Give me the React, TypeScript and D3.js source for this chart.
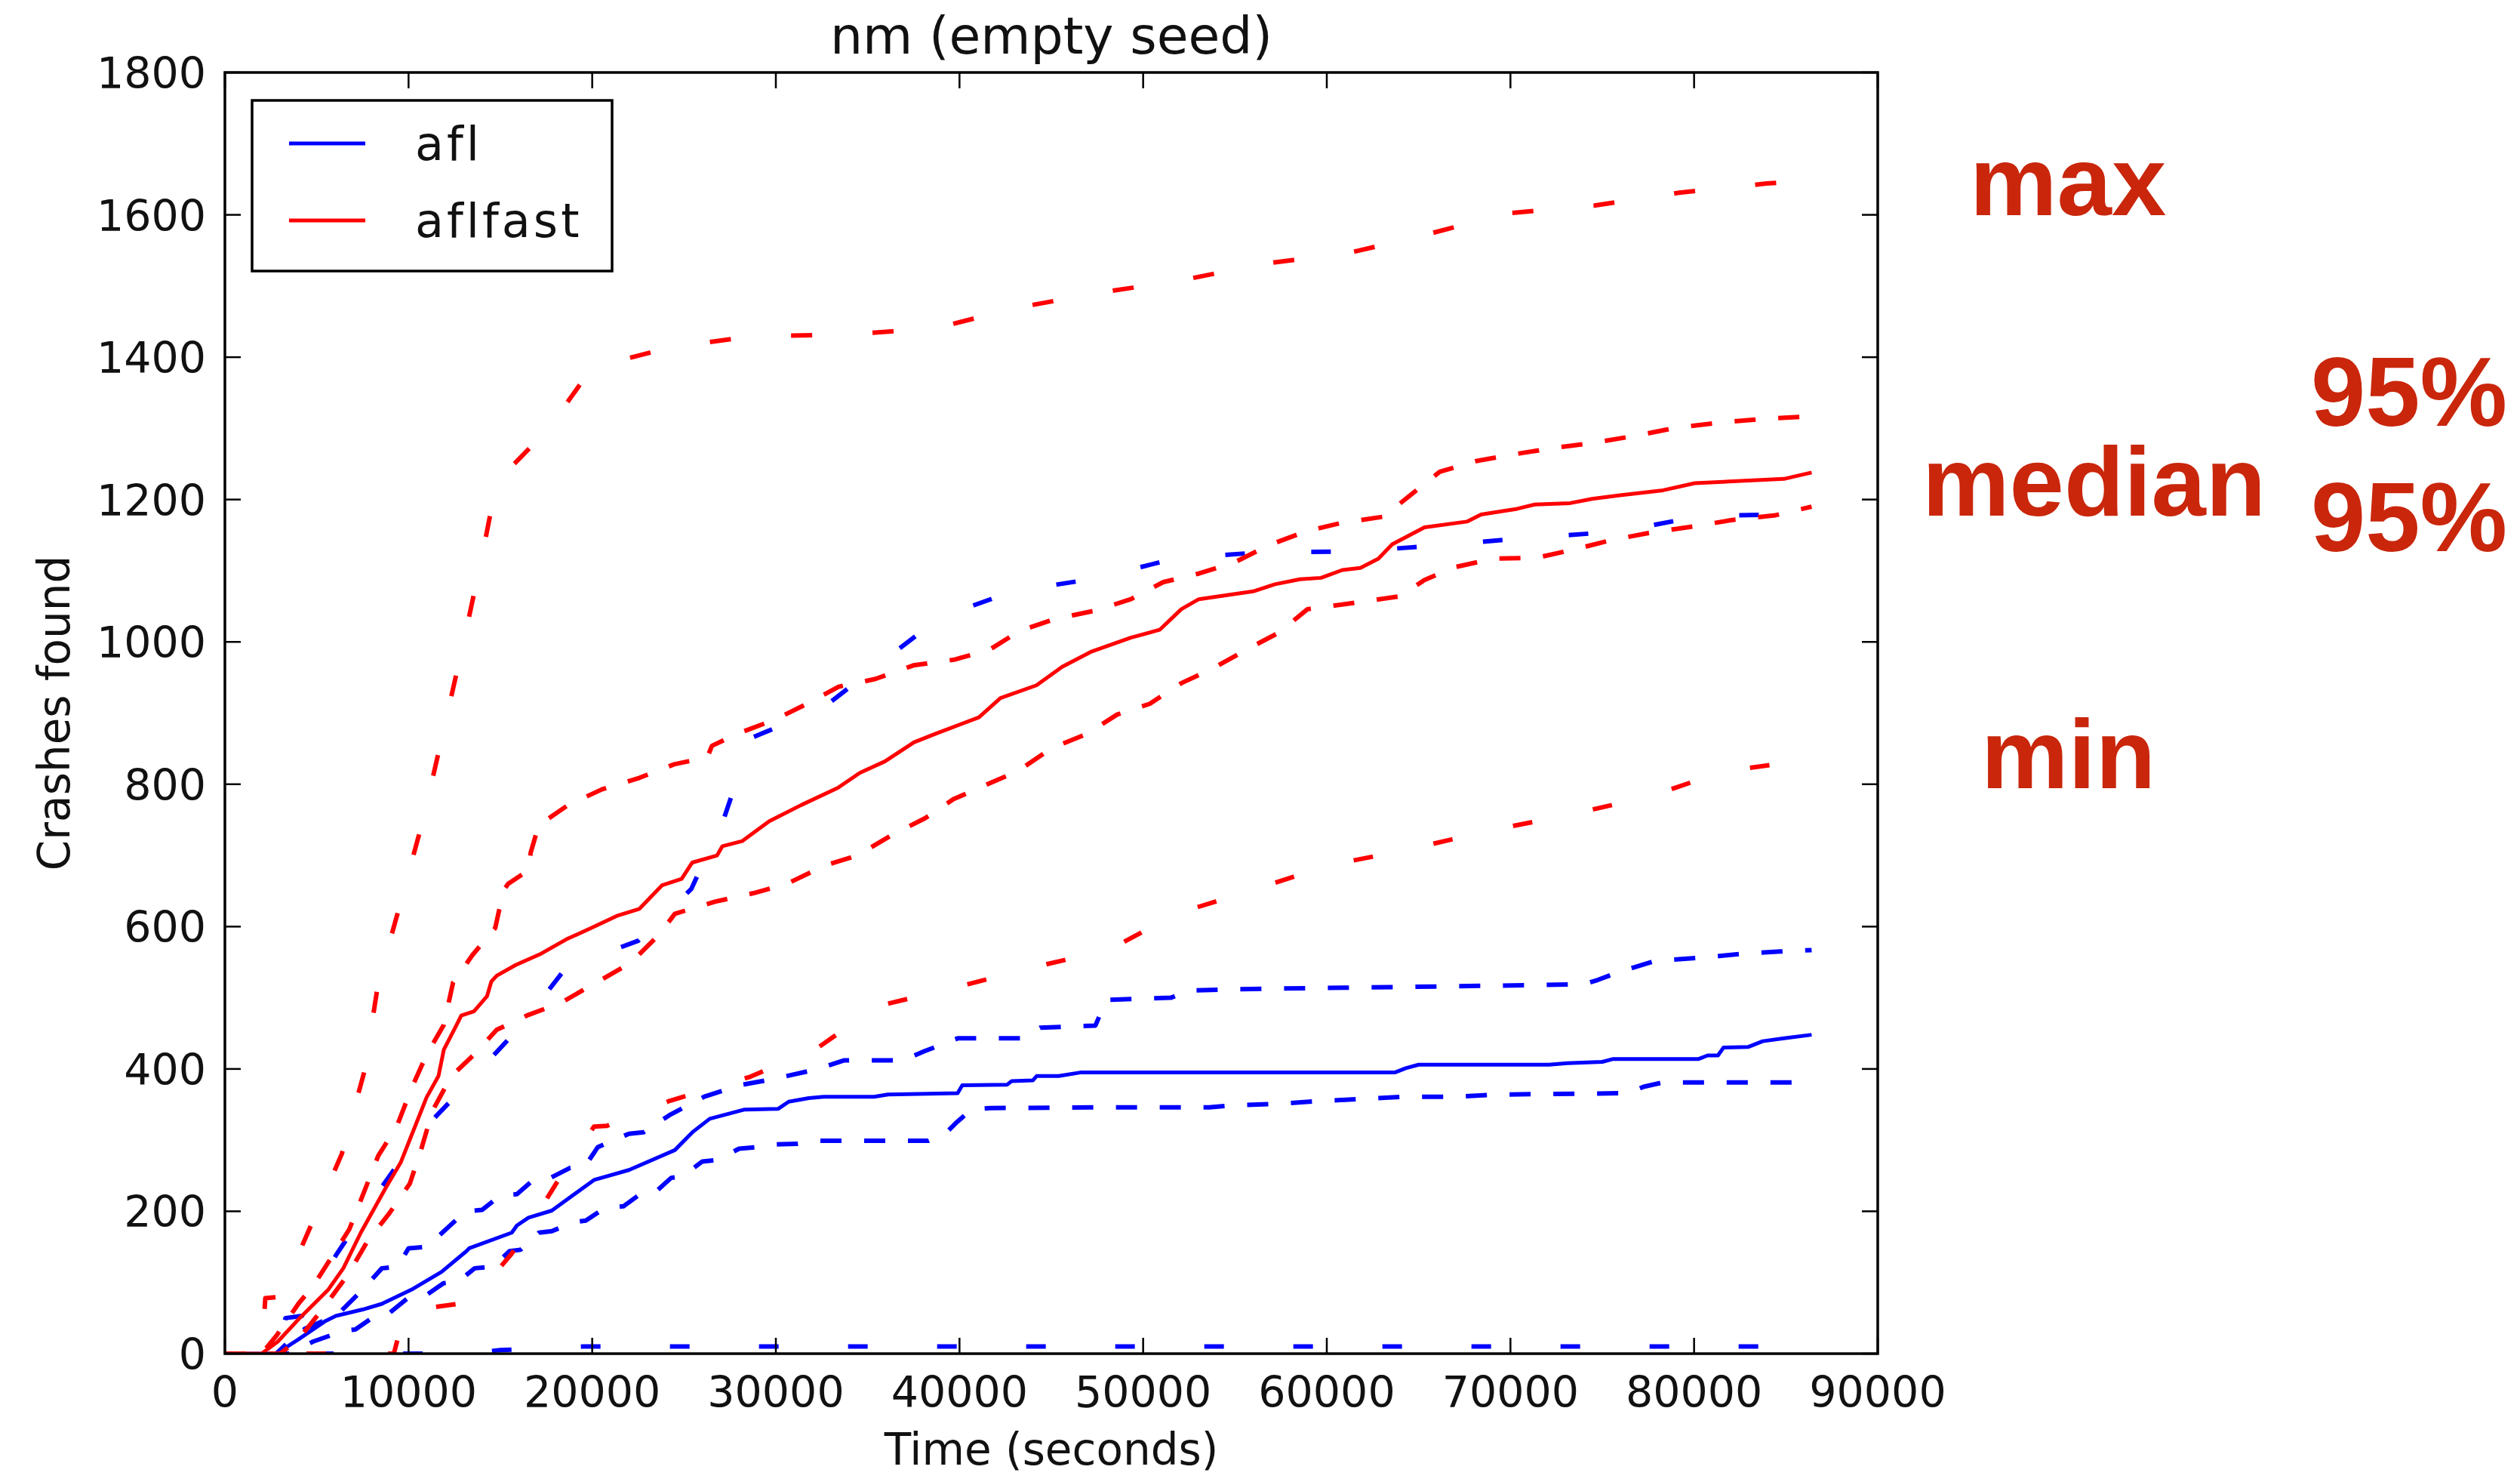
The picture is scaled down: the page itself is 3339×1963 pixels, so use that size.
import React, { useEffect, useRef } from "react";
import * as d3 from "d3";

// x: seconds, y: crashes found
const aflMedian = [
  [0, 0], [2800, 0], [4000, 20], [5480, 46], [6040, 53], [7500, 62], [8550, 70], [10240, 91],
  [11800, 115], [13150, 144], [13300, 148], [15620, 170], [15900, 180], [16530, 191], [17800, 201],
  [20100, 244], [22000, 258], [24500, 286], [25500, 312], [26400, 330], [28300, 343], [30130, 344],
  [30700, 354], [31800, 359], [32600, 361], [35350, 361], [36100, 364], [39900, 366], [40150, 377],
  [42600, 378], [42840, 383], [44000, 384], [44200, 390], [45400, 390], [46580, 395], [63700, 395],
  [64300, 401], [65000, 406], [72100, 406], [73100, 408], [75000, 410], [75600, 414], [80250, 414],
  [80740, 419], [81300, 419], [81600, 430], [82960, 431], [83740, 439], [84900, 443], [86400, 448],
];
const aflUpper = [
  [0, 0], [2800, 0], [3600, 20], [4360, 35], [6100, 54], [7500, 90], [8550, 120], [9400, 122],
  [10000, 148], [11000, 150], [13100, 200], [14000, 202], [15000, 222], [15900, 224], [16700, 242],
  [17500, 244], [18800, 261], [19600, 263], [20300, 290], [22000, 309], [22800, 311], [24200, 335],
  [26100, 361], [28000, 377], [29900, 386], [31800, 397], [32400, 401], [33700, 412], [36900, 412],
  [38100, 425], [39900, 443], [43400, 443], [44400, 458], [47400, 461], [48000, 497], [51500, 500],
  [52500, 510], [54800, 512], [69200, 517], [74000, 519], [74750, 525], [75900, 536], [77900, 552],
  [80250, 556], [82700, 562], [84700, 565], [86400, 567],
];
const aflLower = [
  [0, 0], [3500, 0], [4800, 17], [6450, 32], [7100, 34], [8350, 56], [9000, 58], [10000, 79],
  [10900, 81], [11900, 99], [12700, 101], [13600, 120], [14600, 122], [15500, 144], [16100, 146],
  [17100, 170], [17800, 172], [19000, 185], [19650, 187], [20700, 205], [21700, 207], [22600, 224],
  [23400, 226], [24300, 247], [24900, 249], [26000, 270], [26800, 272], [28000, 288], [28900, 290],
  [30000, 294], [31200, 295], [32300, 299], [38300, 299], [39300, 311], [39800, 324], [40650, 343],
  [41650, 345], [47700, 346], [53600, 346], [55000, 349], [57300, 351], [59650, 355], [62000, 358],
  [64300, 361], [67000, 361], [69200, 364], [76400, 366], [77250, 375], [78300, 381], [86400, 381],
];
const aflMax = [
  [0, 0], [2800, 0], [3300, 50], [4200, 53], [6040, 138], [8200, 222], [10700, 312], [13370, 384],
  [16100, 460], [18600, 543], [22500, 580], [25400, 653], [27200, 754], [28650, 865], [32500, 906],
  [35700, 970], [38900, 1034], [42900, 1071], [47400, 1089], [51700, 1117], [56500, 1126],
  [61500, 1127], [66300, 1136], [71400, 1147], [75900, 1155], [80400, 1177], [86400, 1180],
];
const aflMin = [[0, 0], [13000, 0], [15000, 5], [19500, 10], [86400, 10]];

const aflfastMedian = [
  [0, 0], [2000, 0], [2880, 17], [4110, 51], [5630, 90], [6450, 120], [7400, 170], [8760, 233],
  [9580, 269], [10150, 306], [10980, 360], [11630, 390], [11920, 427], [12620, 462], [12870, 475],
  [13560, 481], [14270, 502], [14510, 523], [14800, 531], [15830, 546], [17220, 562], [18580, 582],
  [19940, 598], [21340, 615], [22570, 625], [23800, 658], [24870, 667], [25450, 690], [26800, 700],
  [27090, 713], [28160, 720], [29640, 748], [31400, 771], [33380, 795], [34570, 816], [35930, 832],
  [37530, 859], [38700, 871], [41060, 894], [42230, 921], [44190, 939], [45590, 965], [47150, 986],
  [49330, 1006], [50900, 1017], [52080, 1046], [53030, 1060], [55990, 1071], [57180, 1081],
  [58540, 1088], [59690, 1090], [60850, 1101], [61830, 1104], [62810, 1117], [63560, 1137],
  [65320, 1161], [67630, 1169], [68400, 1179], [70370, 1187], [71330, 1193], [73260, 1195],
  [74450, 1201], [75970, 1206], [78310, 1213], [80040, 1223], [84890, 1229], [86400, 1238],
];
const aflfastUpper = [
  [0, 0], [2000, 0], [2800, 25], [4000, 70], [4800, 95], [5800, 135], [6780, 175], [8350, 278],
  [9370, 320], [10150, 372], [10980, 420], [11920, 462], [12420, 521], [13480, 560], [14720, 598],
  [15170, 651], [15420, 660], [16530, 679], [16650, 704], [17060, 740], [17350, 747], [18700, 771],
  [20550, 793], [22570, 809], [24460, 828], [26270, 838], [26520, 854], [27910, 871], [29970, 891],
  [31700, 913], [33420, 937], [35430, 948], [37490, 967], [39710, 975], [41640, 989], [43240, 1015],
  [45180, 1032], [47400, 1044], [49330, 1060], [51100, 1084], [53030, 1096], [55000, 1112],
  [56860, 1136], [58830, 1155], [60760, 1167], [63100, 1176], [64590, 1207], [66150, 1239],
  [68120, 1254], [70300, 1264], [72480, 1273], [74620, 1280], [76880, 1290], [79060, 1301],
  [81360, 1308], [83620, 1313], [86400, 1317],
];
const aflfastLower = [
  [0, 0], [3000, 0], [4000, 20], [5300, 62], [6700, 111], [7810, 160], [8920, 196], [10070, 239],
  [10690, 287], [11300, 341], [12330, 390], [13560, 420], [14800, 455], [16440, 475], [18300, 493],
  [20400, 524], [22100, 549], [23620, 588], [24500, 618], [26680, 635], [28780, 647], [30590, 660],
  [32680, 686], [34450, 700], [36340, 729], [38110, 752], [39670, 779], [41520, 800], [43210, 819],
  [44970, 850], [46950, 871], [48590, 898], [50360, 913], [52080, 942], [53810, 963], [55620, 989],
  [57390, 1013], [58950, 1046], [60980, 1053], [63970, 1064], [65320, 1087], [66970, 1105],
  [69100, 1117], [71400, 1118], [73500, 1130], [75480, 1143], [77530, 1153], [79920, 1162],
  [82010, 1171], [84440, 1178], [86400, 1190],
];
const aflfastMax = [
  [0, 0], [2000, 0], [2200, 78], [3000, 80], [4650, 178], [6370, 281], [7600, 397], [8350, 521],
  [9580, 635], [10800, 751], [11850, 869], [13000, 1000], [14000, 1120], [14800, 1225], [17640, 1300],
  [19980, 1385], [24250, 1414], [28650, 1429], [33830, 1432], [38600, 1440], [43040, 1469],
  [47480, 1490], [52090, 1508], [56530, 1531], [61300, 1547], [65530, 1573], [69800, 1602],
  [74570, 1613], [79180, 1631], [83950, 1644], [86400, 1648],
];
const aflfastMin = [
  [0, 0], [9200, 0], [9800, 60], [12700, 70], [13560, 78], [15600, 140], [16000, 155], [17800, 229],
  [18300, 250], [20100, 319], [20800, 320], [24200, 355], [28600, 389], [32300, 430], [35500, 488],
  [39700, 514], [43900, 542], [48200, 568], [51800, 618], [55900, 651], [60100, 686], [64400, 708],
  [68700, 734], [73200, 757], [77600, 783], [81600, 818], [86400, 835],
];

const xTicks = [0, 10000, 20000, 30000, 40000, 50000, 60000, 70000, 80000, 90000];
const yTicks = [0, 200, 400, 600, 800, 1000, 1200, 1400, 1600, 1800];
const legendNames = ["afl", "aflfast"];
const notes = [
  { text: "max", x: 2610, y: 285 },
  { text: "95%", x: 3062, y: 564 },
  { text: "median", x: 2547, y: 683 },
  { text: "95%", x: 3062, y: 730 },
  { text: "min", x: 2625, y: 1044 },
];

function App() {
  const ref = useRef<SVGSVGElement>(null);

  useEffect(() => {
    const svg = d3.select(ref.current);
    svg.selectAll("*").remove();

    const W = 3339;
    const H = 1963;
    const left = 298, right = 2488, top = 96, bottom = 1793;
    const font = "'DejaVu Sans', sans-serif";
    const ink = "#111";

    svg.append("rect").attr("width", W).attr("height", H).attr("fill", "white");

    const x = d3.scaleLinear().domain([0, 90000]).range([left, right]);
    const y = d3.scaleLinear().domain([0, 1800]).range([bottom, top]);

    svg
      .append("clipPath")
      .attr("id", "plot")
      .append("rect")
      .attr("x", left)
      .attr("y", top)
      .attr("width", right - left)
      .attr("height", bottom - top);

    const line = d3
      .line<number[]>()
      .x((d) => x(d[0]))
      .y((d) => y(d[1]));

    const series = [
      { data: aflMin, color: "#0000ff", dash: "26 92" },
      { data: aflMax, color: "#0000ff", dash: "26 88" },
      { data: aflLower, color: "#0000ff", dash: "28 30" },
      { data: aflUpper, color: "#0000ff", dash: "28 30" },
      { data: aflMedian, color: "#0000ff", dash: null },
      { data: aflfastMin, color: "#ff0000", dash: "26 82" },
      { data: aflfastMax, color: "#ff0000", dash: "28 80" },
      { data: aflfastLower, color: "#ff0000", dash: "28 30" },
      { data: aflfastUpper, color: "#ff0000", dash: "28 30" },
      { data: aflfastMedian, color: "#ff0000", dash: null },
    ];

    const g = svg.append("g").attr("clip-path", "url(#plot)");
    series.forEach((s) => {
      g.append("path")
        .attr("d", line(s.data))
        .attr("fill", "none")
        .attr("stroke", s.color)
        .attr("stroke-width", s.dash ? 6 : 5)
        .attr("stroke-linejoin", "round")
        .attr("stroke-dasharray", s.dash);
    });

    // frame
    svg
      .append("rect")
      .attr("x", left)
      .attr("y", top)
      .attr("width", right - left)
      .attr("height", bottom - top)
      .attr("fill", "none")
      .attr("stroke", "black")
      .attr("stroke-width", 3.5);

    const tickLen = 21;
    const ticks = svg.append("g").attr("stroke", "black").attr("stroke-width", 2.5);
    xTicks.forEach((t) => {
      ticks.append("line").attr("x1", x(t)).attr("x2", x(t)).attr("y1", bottom).attr("y2", bottom - tickLen);
      ticks.append("line").attr("x1", x(t)).attr("x2", x(t)).attr("y1", top).attr("y2", top + tickLen);
    });
    yTicks.forEach((t) => {
      ticks.append("line").attr("x1", left).attr("x2", left + tickLen).attr("y1", y(t)).attr("y2", y(t));
      ticks.append("line").attr("x1", right).attr("x2", right - tickLen).attr("y1", y(t)).attr("y2", y(t));
    });

    svg
      .append("g")
      .selectAll("text")
      .data(xTicks)
      .enter()
      .append("text")
      .attr("x", (d) => x(d))
      .attr("y", 1864)
      .attr("text-anchor", "middle")
      .attr("font-family", font)
      .attr("font-size", 57)
      .attr("fill", ink)
      .text((d) => String(d));

    svg
      .append("g")
      .selectAll("text")
      .data(yTicks)
      .enter()
      .append("text")
      .attr("x", 273)
      .attr("y", (d) => y(d) + 21)
      .attr("text-anchor", "end")
      .attr("font-family", font)
      .attr("font-size", 57)
      .attr("fill", ink)
      .text((d) => String(d));

    svg
      .append("text")
      .attr("x", (left + right) / 2)
      .attr("y", 71)
      .attr("text-anchor", "middle")
      .attr("font-family", font)
      .attr("font-size", 68)
      .attr("fill", ink)
      .text("nm (empty seed)");

    svg
      .append("text")
      .attr("x", (left + right) / 2)
      .attr("y", 1940)
      .attr("text-anchor", "middle")
      .attr("font-family", font)
      .attr("font-size", 58)
      .attr("fill", ink)
      .text("Time (seconds)");

    svg
      .append("text")
      .attr("transform", `translate(92,${(top + bottom) / 2}) rotate(-90)`)
      .attr("text-anchor", "middle")
      .attr("font-family", font)
      .attr("font-size", 58)
      .attr("fill", ink)
      .text("Crashes found");

    // legend
    const legend = svg.append("g");
    legend
      .append("rect")
      .attr("x", 334)
      .attr("y", 133)
      .attr("width", 477)
      .attr("height", 226)
      .attr("fill", "white")
      .attr("stroke", "black")
      .attr("stroke-width", 3.5);
    const legendColors = ["#0000ff", "#ff0000"];
    legendNames.forEach((name, i) => {
      const ly = 190 + i * 102;
      legend
        .append("line")
        .attr("x1", 383)
        .attr("x2", 484)
        .attr("y1", ly)
        .attr("y2", ly)
        .attr("stroke", legendColors[i])
        .attr("stroke-width", 5);
      legend
        .append("text")
        .attr("x", 550)
        .attr("y", ly + 22)
        .attr("font-family", font)
        .attr("font-size", 62)
        .attr("letter-spacing", 4)
        .attr("fill", ink)
        .text(name);
    });

    svg
      .append("g")
      .selectAll("text")
      .data(notes)
      .enter()
      .append("text")
      .attr("x", (d) => d.x)
      .attr("y", (d) => d.y)
      .attr("font-family", "'Liberation Sans', Arial, sans-serif")
      .attr("font-weight", "bold")
      .attr("font-size", 130)
      .attr("fill", "#c9260c")
      .text((d) => d.text);
  }, []);

  return (
    <>
      <style>{"body{margin:0}"}</style>
      <svg ref={ref} width={3339} height={1963} style={{ display: "block" }} />
    </>
  );
}

export default App;
